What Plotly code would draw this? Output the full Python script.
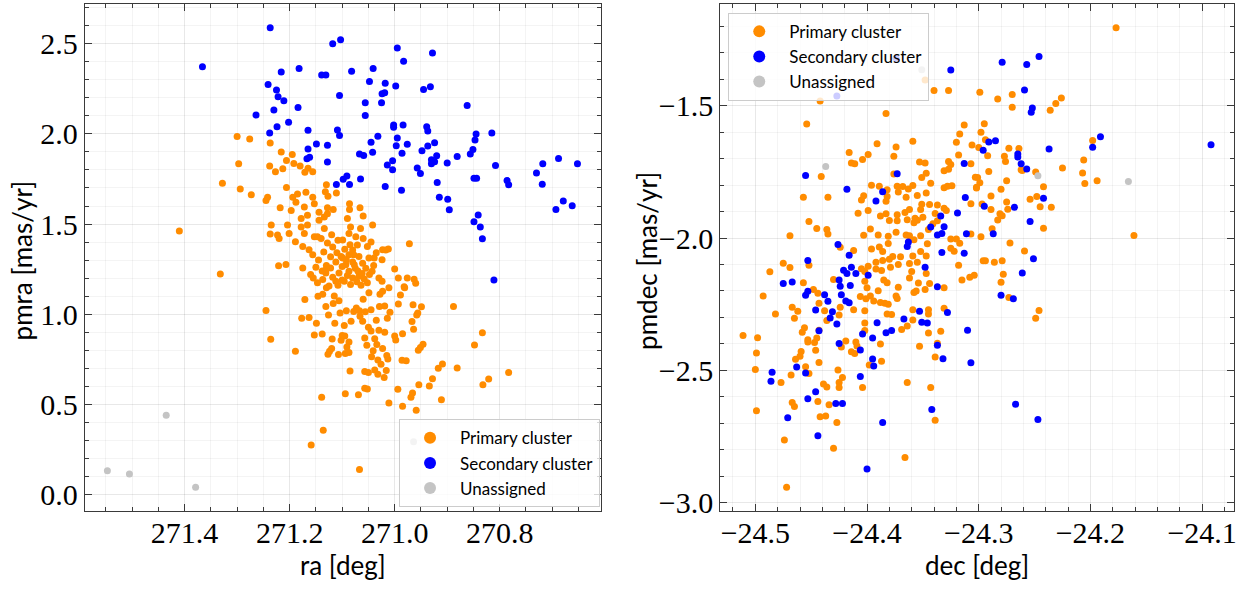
import plotly.graph_objects as go

# ---- Left panel: ra [deg] vs pmra [mas/yr] ----
primary_ra_pmra = [
    (271.410, 1.461), (271.332, 1.223), (271.300, 1.986), (271.276, 1.971), (271.237, 1.949),
    (271.297, 1.834), (271.328, 1.726), (271.216, 1.900), (271.206, 1.852), (271.195, 1.885),
    (271.238, 1.822), (271.227, 1.790), (271.213, 1.807), (271.192, 1.836), (271.180, 1.822),
    (271.165, 1.809), (271.171, 1.787), (271.156, 1.790), (271.130, 1.718), (271.132, 1.679),
    (271.127, 1.654), (271.111, 1.672), (271.128, 1.590), (271.117, 1.581), (271.086, 1.612),
    (271.086, 1.581), (271.066, 1.590), (271.060, 1.544), (271.042, 1.495), (270.972, 1.391),
    (271.012, 1.362), (271.023, 1.357), (270.976, 1.200), (270.963, 1.194), (270.960, 1.171),
    (270.982, 1.152),
    (271.197, 1.575), (271.188, 1.621), (271.185, 1.666), (271.194, 1.648), (271.169, 1.676),
    (271.156, 1.648), (271.172, 1.594), (271.153, 1.612), (271.178, 1.530), (271.166, 1.548),
    (271.178, 1.484), (271.166, 1.494), (271.172, 1.448), (271.144, 1.566), (271.134, 1.539),
    (271.128, 1.557), (271.144, 1.521), (271.134, 1.475), (271.153, 1.429), (271.204, 1.494),
    (271.201, 1.448), (271.189, 1.402), (271.175, 1.375), (271.163, 1.357), (271.147, 1.429),
    (271.156, 1.329), (271.235, 1.494), (271.237, 1.444), (271.223, 1.439), (271.220, 1.420),
    (271.207, 1.275), (271.221, 1.269), (271.245, 1.630), (271.242, 1.648), (271.218, 1.590),
    (271.206, 1.703), (271.294, 1.694), (271.273, 1.663),
    (271.160, 1.220), (271.147, 1.174), (271.099, 1.311), (271.122, 1.256), (271.106, 1.229),
    (271.112, 1.183), (271.096, 1.183), (271.087, 1.238), (271.084, 1.165), (271.125, 1.156),
    (271.065, 1.475), (271.090, 1.530), (271.084, 1.484), (271.087, 1.448), (271.074, 1.429),
    (271.071, 1.384), (271.052, 1.375), (271.049, 1.311), (271.039, 1.311), (271.043, 1.238),
    (271.030, 1.201), (271.024, 1.183), (271.017, 1.356), (271.024, 1.302), (271.068, 1.320),
    (271.061, 1.283), (271.077, 1.274), (271.068, 1.211), (271.052, 1.174), (271.093, 1.274),
    (271.087, 1.329), (271.080, 1.356), (271.099, 1.411), (271.175, 1.256), (271.131, 1.229),
    (271.137, 1.193), (271.131, 1.247), (271.000, 1.250), (270.993, 1.200),
    (271.140, 1.420), (271.128, 1.395), (271.118, 1.372), (271.110, 1.340), (271.102, 1.320),
    (271.135, 1.345), (271.122, 1.318), (271.112, 1.290), (271.100, 1.265), (271.092, 1.300),
    (271.080, 1.290), (271.075, 1.255), (271.070, 1.240), (271.090, 1.215), (271.080, 1.200),
    (271.062, 1.225), (271.058, 1.195), (271.072, 1.180), (271.064, 1.160), (271.100, 1.190),
    (271.108, 1.160), (271.118, 1.205), (271.130, 1.270), (271.145, 1.300), (271.138, 1.240),
    (271.095, 1.360), (271.085, 1.385), (271.108, 1.410), (271.120, 1.440), (271.078, 1.330),
    (271.055, 1.255), (271.048, 1.220), (271.040, 1.270), (271.035, 1.340), (271.045, 1.400),
    (271.060, 1.420), (271.150, 1.260), (271.155, 1.200),
    (271.245, 1.021), (271.236, 0.861), (271.171, 1.081), (271.177, 0.977), (271.163, 0.981),
    (271.149, 0.950), (271.189, 0.795), (271.153, 0.884), (271.138, 0.890), (271.139, 0.539),
    (271.136, 0.356), (271.159, 0.275), (271.067, 0.138), (271.094, 0.558), (271.069, 0.553),
    (271.085, 0.685), (271.057, 0.589), (271.052, 0.585), (271.057, 0.682), (271.050, 0.676),
    (271.020, 0.649), (271.011, 0.507), (270.994, 0.583), (270.985, 0.489), (270.959, 0.467),
    (270.969, 0.539), (270.966, 0.563), (270.954, 0.609), (270.934, 0.602), (270.928, 0.642),
    (270.911, 0.525), (270.917, 0.700), (270.909, 0.724), (270.881, 0.702), (270.888, 1.043),
    (270.848, 0.829), (270.833, 0.897), (270.832, 0.609), (270.821, 0.640), (270.783, 0.676),
    (270.986, 0.744), (270.978, 0.742), (270.955, 0.800), (270.951, 0.815), (270.946, 0.833),
    (270.965, 1.052), (270.949, 1.041), (270.956, 1.007), (270.958, 0.996), (270.967, 0.959),
    (270.964, 0.917), (270.989, 1.107), (270.981, 1.147), (270.985, 0.892), (271.000, 0.879),
    (270.998, 0.857), (271.015, 0.771), (271.013, 0.751), (271.023, 0.810), (271.032, 0.746),
    (271.026, 0.722), (271.016, 0.687), (271.044, 0.764), (271.038, 0.691), (271.032, 0.667),
    (271.041, 0.797), (271.034, 0.832), (271.038, 0.864), (271.053, 0.828), (271.057, 0.868),
    (271.087, 0.846), (271.091, 0.818), (271.094, 0.782), (271.087, 0.788), (271.107, 0.777),
    (271.127, 0.778), (271.124, 0.795), (271.120, 0.810), (271.102, 0.855), (271.095, 0.879),
    (271.100, 0.882), (271.119, 0.862), (271.114, 0.950), (271.096, 0.937), (271.083, 0.961),
    (271.061, 0.961), (271.035, 0.966), (271.050, 0.928), (271.045, 0.906), (271.030, 0.911),
    (271.019, 0.900), (271.014, 0.977), (271.009, 1.010), (271.019, 1.046), (271.029, 1.043),
    (271.045, 1.025), (271.056, 1.014), (271.066, 0.988), (271.078, 1.015), (271.067, 1.019),
    (271.073, 1.034), (271.092, 1.019), (271.104, 1.007), (271.126, 0.996), (271.131, 1.043),
    (271.117, 1.059), (271.106, 1.074), (271.115, 1.101), (271.146, 1.100), (271.137, 1.110),
    (271.130, 1.147), (271.028, 1.110), (271.023, 1.127), (271.011, 1.147), (271.049, 1.119),
    (271.060, 1.083), (270.993, 1.056),
]

secondary_ra_pmra = [
    (271.237, 2.589), (271.366, 2.372), (271.118, 2.500), (271.103, 2.522), (270.995, 2.476),
    (270.928, 2.449), (270.983, 2.403), (271.216, 2.343), (271.182, 2.363), (271.139, 2.327),
    (271.131, 2.327), (271.082, 2.347), (271.041, 2.363), (271.241, 2.274), (271.225, 2.243),
    (271.222, 2.206), (271.211, 2.184), (271.230, 2.133), (271.264, 2.104), (271.184, 2.146),
    (271.105, 2.213), (271.048, 2.290), (271.018, 2.281), (271.024, 2.223), (271.019, 2.228),
    (271.025, 2.172), (271.056, 2.173), (270.998, 2.265), (270.945, 2.246), (270.932, 2.261),
    (271.056, 2.102), (270.862, 2.157), (271.224, 2.040), (271.202, 2.064), (271.238, 2.005),
    (271.165, 2.020), (271.109, 2.022), (271.105, 1.991), (271.128, 1.937), (271.149, 1.944),
    (271.165, 1.916), (271.167, 1.862), (271.162, 1.871), (271.128, 1.844), (271.032, 1.987),
    (271.045, 1.953), (271.042, 1.898), (271.067, 1.889), (271.059, 1.880), (271.002, 2.049),
    (271.002, 2.037), (270.984, 2.049), (270.995, 1.977), (270.997, 1.934), (270.976, 1.942),
    (270.986, 1.893), (271.004, 1.851), (271.014, 1.827), (271.004, 1.801), (270.939, 2.040),
    (270.937, 2.016), (270.924, 1.951), (270.937, 1.933), (270.948, 1.907), (270.920, 1.878),
    (270.930, 1.856), (270.924, 1.845), (270.930, 1.834), (270.900, 1.838), (270.881, 1.874),
    (270.957, 1.811), (270.951, 1.780), (270.919, 1.730), (270.915, 1.648), (270.899, 1.637),
    (270.896, 1.579), (270.987, 1.687), (271.018, 1.708), (271.065, 1.750), (271.098, 1.748),
    (271.091, 1.767), (271.086, 1.719), (271.111, 1.719), (270.815, 2.005), (270.845, 2.000),
    (270.847, 1.966), (270.851, 1.913), (270.856, 1.889), (270.808, 1.825), (270.849, 1.754),
    (270.844, 1.754), (270.786, 1.741), (270.783, 1.718), (270.718, 1.834), (270.688, 1.863),
    (270.652, 1.834), (270.730, 1.783), (270.719, 1.721), (270.679, 1.628), (270.662, 1.601),
    (270.693, 1.581), (270.849, 1.513), (270.841, 1.550), (270.837, 1.484), (270.833, 1.418),
    (270.811, 1.190),
]

unassigned_ra_pmra = [
    (271.547, 0.131), (271.505, 0.113), (271.435, 0.439), (271.379, 0.040), (270.964, 0.292),
]

# ---- Right panel: dec [deg] vs pmdec [mas/yr] ----
primary_dec_pmdec = [
    (-24.177, -1.205), (-24.348, -1.403), (-24.340, -1.442), (-24.327, -1.442), (-24.299, -1.449),
    (-24.283, -1.474), (-24.270, -1.457), (-24.270, -1.506), (-24.226, -1.471), (-24.231, -1.491),
    (-24.236, -1.517), (-24.442, -1.482), (-24.454, -1.569), (-24.383, -1.529), (-24.313, -1.573),
    (-24.295, -1.568), (-24.298, -1.600), (-24.317, -1.607), (-24.320, -1.638), (-24.306, -1.648),
    (-24.300, -1.658), (-24.294, -1.628), (-24.359, -1.634), (-24.391, -1.644), (-24.374, -1.656),
    (-24.376, -1.691), (-24.416, -1.677), (-24.399, -1.684), (-24.404, -1.703), (-24.414, -1.716),
    (-24.411, -1.719), (-24.318, -1.686), (-24.292, -1.689), (-24.277, -1.691), (-24.276, -1.711),
    (-24.273, -1.661), (-24.264, -1.662), (-24.327, -1.711), (-24.325, -1.722), (-24.307, -1.719),
    (-24.353, -1.713), (-24.348, -1.716), (-24.331, -1.746), (-24.327, -1.740), (-24.347, -1.755),
    (-24.351, -1.771), (-24.376, -1.758), (-24.441, -1.767), (-24.435, -1.846), (-24.457, -1.846),
    (-24.291, -1.748), (-24.262, -1.742), (-24.261, -1.745), (-24.249, -1.750), (-24.225, -1.735),
    (-24.206, -1.705), (-24.207, -1.754), (-24.205, -1.794), (-24.194, -1.783), (-24.198, -1.631),
    (-24.161, -1.990), (-24.303, -1.770), (-24.301, -1.771), (-24.299, -1.791), (-24.302, -1.808),
    (-24.302, -1.811), (-24.275, -1.783), (-24.280, -1.816), (-24.242, -1.806), (-24.254, -1.853),
    (-24.248, -1.843), (-24.245, -1.882), (-24.235, -1.884), (-24.242, -1.963), (-24.289, -1.841),
    (-24.275, -1.864), (-24.274, -1.891), (-24.289, -1.892), (-24.281, -1.908), (-24.279, -1.916),
    (-24.283, -1.932), (-24.307, -1.870), (-24.297, -1.871), (-24.288, -1.965), (-24.307, -1.985),
    (-24.298, -1.995), (-24.272, -2.019), (-24.259, -2.049), (-24.296, -2.086), (-24.294, -2.086),
    (-24.286, -2.091), (-24.279, -2.086), (-24.278, -2.137), (-24.280, -2.167), (-24.304, -2.141),
    (-24.308, -2.148), (-24.315, -2.159), (-24.318, -2.103), (-24.322, -2.050), (-24.317, -2.020),
    (-24.320, -2.004), (-24.325, -2.004), (-24.325, -2.039), (-24.345, -1.968), (-24.341, -1.946),
    (-24.337, -1.935), (-24.339, -1.907), (-24.331, -1.887), (-24.329, -1.896), (-24.337, -1.875),
    (-24.331, -1.810), (-24.328, -1.804), (-24.324, -1.802), (-24.343, -1.793), (-24.344, -1.873),
    (-24.351, -1.872), (-24.352, -1.892), (-24.350, -1.921), (-24.357, -1.925), (-24.352, -1.991),
    (-24.346, -2.022), (-24.362, -1.991), (-24.358, -2.006), (-24.365, -1.988), (-24.374, -1.978),
    (-24.381, -1.993), (-24.381, -2.021), (-24.390, -1.988), (-24.397, -1.966), (-24.403, -1.989),
    (-24.388, -1.917), (-24.383, -1.908), (-24.380, -1.934), (-24.373, -1.935), (-24.373, -1.912),
    (-24.366, -1.903), (-24.362, -1.892), (-24.364, -1.931), (-24.355, -1.933), (-24.358, -1.942),
    (-24.382, -1.843), (-24.383, -1.861), (-24.373, -1.804), (-24.368, -1.805), (-24.372, -1.826),
    (-24.365, -1.846), (-24.363, -1.815), (-24.359, -1.801), (-24.355, -1.839), (-24.347, -1.830),
    (-24.396, -1.800), (-24.389, -1.804), (-24.382, -1.817), (-24.405, -1.856), (-24.399, -1.896),
    (-24.408, -1.906), (-24.396, -2.041), (-24.389, -2.034), (-24.386, -2.051), (-24.392, -2.091),
    (-24.386, -2.085), (-24.380, -2.080), (-24.377, -2.070), (-24.370, -2.071), (-24.372, -2.100),
    (-24.379, -2.110), (-24.387, -2.123), (-24.392, -2.117), (-24.399, -2.107), (-24.402, -2.126),
    (-24.385, -2.159), (-24.382, -2.169), (-24.402, -2.163), (-24.400, -2.188), (-24.390, -2.199),
    (-24.372, -2.186), (-24.362, -2.151), (-24.354, -2.170), (-24.344, -2.172), (-24.356, -2.200),
    (-24.348, -2.194), (-24.360, -2.126), (-24.362, -2.096), (-24.355, -2.091), (-24.347, -2.134),
    (-24.359, -2.068), (-24.352, -2.051), (-24.347, -2.068), (-24.412, -2.047), (-24.424, -2.035),
    (-24.405, -2.116), (-24.430, -2.157), (-24.445, -1.964), (-24.436, -1.968), (-24.435, -1.985),
    (-24.469, -1.991), (-24.452, -1.937), (-24.452, -2.103), (-24.475, -2.095), (-24.469, -2.111),
    (-24.487, -2.127), (-24.457, -2.169), (-24.448, -2.194), (-24.444, -2.209), (-24.493, -2.219),
    (-24.403, -1.840),
    (-24.482, -2.287), (-24.511, -2.368), (-24.498, -2.377), (-24.499, -2.434), (-24.500, -2.497),
    (-24.499, -2.653), (-24.477, -2.546), (-24.468, -2.518), (-24.474, -2.763), (-24.472, -2.942),
    (-24.467, -2.622), (-24.465, -2.637), (-24.467, -2.262), (-24.462, -2.277), (-24.465, -2.303),
    (-24.456, -2.339), (-24.458, -2.356), (-24.453, -2.384), (-24.453, -2.393), (-24.445, -2.378),
    (-24.447, -2.395), (-24.446, -2.424), (-24.459, -2.429), (-24.460, -2.447), (-24.464, -2.458),
    (-24.455, -2.486), (-24.452, -2.512), (-24.443, -2.470), (-24.443, -2.348), (-24.443, -2.246),
    (-24.438, -2.275), (-24.436, -2.312), (-24.439, -2.552), (-24.436, -2.563), (-24.444, -2.618),
    (-24.434, -2.630), (-24.442, -2.675), (-24.437, -2.673), (-24.427, -2.697), (-24.430, -2.794),
    (-24.426, -2.499), (-24.425, -2.546), (-24.425, -2.565), (-24.422, -2.527), (-24.404, -2.565),
    (-24.423, -2.412), (-24.419, -2.389), (-24.414, -2.430), (-24.411, -2.436), (-24.410, -2.393),
    (-24.409, -2.408), (-24.402, -2.321), (-24.402, -2.349), (-24.412, -2.271), (-24.402, -2.275),
    (-24.424, -2.262), (-24.425, -2.291), (-24.398, -2.480), (-24.387, -2.466), (-24.388, -2.400),
    (-24.364, -2.546), (-24.366, -2.829), (-24.343, -2.565), (-24.339, -2.689), (-24.339, -2.450),
    (-24.337, -2.398), (-24.353, -2.409), (-24.345, -2.359), (-24.334, -2.352), (-24.345, -2.271),
    (-24.345, -2.287), (-24.359, -2.271), (-24.359, -2.310), (-24.364, -2.332), (-24.369, -2.346),
    (-24.378, -2.289), (-24.382, -2.287), (-24.384, -2.246), (-24.381, -2.250), (-24.388, -2.244),
    (-24.397, -2.219), (-24.401, -2.229), (-24.406, -2.221), (-24.394, -2.238), (-24.374, -2.219),
    (-24.373, -2.228), (-24.358, -2.206), (-24.331, -2.188), (-24.331, -2.265), (-24.273, -2.225),
    (-24.249, -2.303), (-24.246, -2.274),
]

secondary_dec_pmdec = [
    (-24.374, -1.320), (-24.427, -1.463), (-24.325, -1.365), (-24.279, -1.336), (-24.257, -1.344),
    (-24.246, -1.314), (-24.259, -1.440), (-24.252, -1.508), (-24.253, -1.525), (-24.191, -1.617),
    (-24.198, -1.657), (-24.092, -1.647), (-24.237, -1.663), (-24.291, -1.637), (-24.285, -1.632),
    (-24.296, -1.668), (-24.265, -1.682), (-24.265, -1.694), (-24.262, -1.719), (-24.257, -1.739),
    (-24.313, -1.718), (-24.373, -1.757), (-24.455, -1.764), (-24.418, -1.816), (-24.386, -1.825),
    (-24.392, -1.860), (-24.312, -1.847), (-24.295, -1.880), (-24.319, -1.905), (-24.268, -1.884),
    (-24.242, -1.850), (-24.254, -1.937), (-24.334, -1.917), (-24.343, -1.958), (-24.331, -1.957),
    (-24.337, -1.988), (-24.333, -1.983), (-24.311, -1.984), (-24.287, -1.984), (-24.363, -2.015),
    (-24.364, -2.032), (-24.426, -2.024), (-24.416, -2.065), (-24.333, -2.055), (-24.313, -2.057),
    (-24.453, -2.085), (-24.251, -2.078), (-24.348, -2.110), (-24.421, -2.122), (-24.414, -2.110),
    (-24.418, -2.134), (-24.410, -2.134), (-24.399, -2.141), (-24.261, -2.132), (-24.425, -2.159),
    (-24.475, -2.172), (-24.467, -2.166), (-24.424, -2.182), (-24.415, -2.179), (-24.337, -2.184),
    (-24.453, -2.201), (-24.438, -2.214), (-24.423, -2.214), (-24.280, -2.216),
    (-24.455, -2.216), (-24.435, -2.239), (-24.446, -2.272), (-24.431, -2.279), (-24.433, -2.302),
    (-24.427, -2.325), (-24.443, -2.350), (-24.419, -2.238), (-24.416, -2.245), (-24.425, -2.399),
    (-24.406, -2.423), (-24.404, -2.363), (-24.395, -2.378), (-24.391, -2.320), (-24.383, -2.358),
    (-24.378, -2.349), (-24.367, -2.306), (-24.353, -2.277), (-24.351, -2.318), (-24.346, -2.321),
    (-24.337, -2.405), (-24.332, -2.456), (-24.328, -2.281), (-24.310, -2.348), (-24.307, -2.471),
    (-24.395, -2.457), (-24.394, -2.484), (-24.406, -2.523), (-24.463, -2.487), (-24.455, -2.510),
    (-24.485, -2.507), (-24.486, -2.541), (-24.446, -2.581), (-24.453, -2.607), (-24.428, -2.625),
    (-24.422, -2.625), (-24.471, -2.679), (-24.444, -2.747), (-24.386, -2.697), (-24.342, -2.648),
    (-24.400, -2.873), (-24.269, -2.229), (-24.267, -2.628), (-24.247, -2.686),
]

unassigned_dec_pmdec = [
    (-24.437, -1.730), (-24.351, -1.364), (-24.247, -1.765), (-24.166, -1.786),
]

series_names = ["Primary cluster", "Secondary cluster", "Unassigned"]
series_colors = ["#ff8c00", "#0000ff", "#c4c4c4"]
left_series = [primary_ra_pmra, secondary_ra_pmra, unassigned_ra_pmra]
right_series = [primary_dec_pmdec, secondary_dec_pmdec, unassigned_dec_pmdec]

W, H = 1252, 592
TICK_FONT = dict(family="Liberation Serif, Times New Roman, serif", size=30, color="black")
LABEL_FONT = dict(family="Lato", size=26, color="black")
LEGEND_FONT = dict(family="Lato", size=17, color="black")
MAJOR_GRID = "rgba(0,0,0,0.09)"
MINOR_GRID = "rgba(0,0,0,0.045)"
FRAME = "#3a3a3a"

fig = go.Figure()


def add_points(pairs, name, color, xa, ya, legend):
    xs = [p[0] for p in pairs]
    ys = [p[1] for p in pairs]
    fig.add_trace(go.Scatter(
        x=xs, y=ys, mode="markers", name=name,
        marker=dict(color=color, size=7, line=dict(width=0)),
        xaxis=xa, yaxis=ya, legend=legend,
    ))


for pts, name, color in zip(left_series, series_names, series_colors):
    add_points(pts, name, color, "x", "y", "legend")
for pts, name, color in zip(right_series, series_names, series_colors):
    add_points(pts, name, color, "x2", "y2", "legend2")


def axis_style(rng, tick0, dtick, minor_dtick, domain, anchor, standoff=0):
    return dict(
        domain=domain, range=rng, autorange=False, anchor=anchor,
        tickmode="linear", tick0=tick0, dtick=dtick, tickformat=".1f",
        ticks="inside", ticklen=7, tickwidth=1, tickcolor=FRAME,
        ticklabelstandoff=standoff,
        showline=True, linecolor=FRAME, linewidth=1, mirror="allticks",
        showgrid=True, gridcolor=MAJOR_GRID, gridwidth=1, zeroline=False,
        tickfont=TICK_FONT,
        minor=dict(tick0=tick0, dtick=minor_dtick, ticks="inside", ticklen=4,
                   tickwidth=1, tickcolor=FRAME, showgrid=True,
                   gridcolor=MINOR_GRID, gridwidth=1),
    )


y_dom = [1 - 517.7 / H, 1 - 4.3 / H]
left_dom = [85 / W, 602 / W]
right_dom = [722 / W, 1237 / W]

legend_common = dict(
    xanchor="left", yanchor="top",
    bgcolor="rgba(255,255,255,0.8)", bordercolor="#cccccc", borderwidth=1,
    font=LEGEND_FONT, itemsizing="constant", itemwidth=50, tracegroupgap=0,
)

fig.update_layout(
    width=W, height=H,
    margin=dict(l=0, r=0, t=0, b=0),
    paper_bgcolor="white", plot_bgcolor="white",
    xaxis=axis_style([271.590, 270.608], 271.0, 0.2, 0.05, left_dom, "y", -5),
    yaxis=axis_style([-0.09, 2.719], 0.0, 0.5, 0.1, y_dom, "x"),
    xaxis2=axis_style([-24.5314, -24.0714], -24.5, 0.1, 0.02, right_dom, "y2", -5),
    yaxis2=axis_style([-3.0305, -1.1163], -3.0, 0.5, 0.1, y_dom, "x2"),
    legend=dict(x=400 / W, y=1 - 425 / H, **legend_common),
    legend2=dict(x=730 / W, y=1 - 13 / H, **legend_common),
    showlegend=True,
)

# axis titles
titles = [
    ("ra [deg]", (85 + 602) / 2 / W, 1 - 573 / H, 0),
    ("dec [deg]", (722 + 1237) / 2 / W, 1 - 573 / H, 0),
    ("pmra [mas/yr]", 22 / W, 1 - 264 / H, -90),
    ("pmdec [mas/yr]", 649 / W, 1 - 264 / H, -90),
]
for text, x, y, angle in titles:
    fig.add_annotation(
        text=text, x=x, y=y, xref="paper", yref="paper",
        xanchor="center", yanchor="middle", showarrow=False,
        textangle=angle, font=LABEL_FONT,
    )

fig.write_html("out.html")
